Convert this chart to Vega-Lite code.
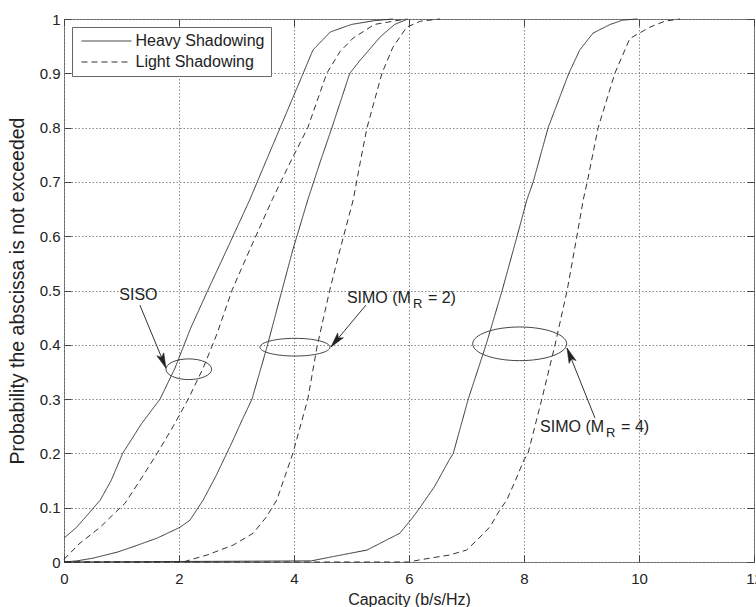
{
  "$schema": "https://vega.github.io/schema/vega-lite/v6.json",
  "width": 690,
  "height": 543,
  "autosize": {"type": "none"},
  "padding": {"left": 64, "top": 19, "right": 2, "bottom": 45},
  "background": "white",
  "config": {
    "font": "Liberation Sans",
    "view": {"stroke": "#666", "strokeWidth": 1},
    "axis": {
      "labelFont": "Liberation Sans",
      "titleFont": "Liberation Sans",
      "labelFontSize": 15,
      "titleFontSize": 16,
      "titleFontWeight": "normal",
      "labelColor": "#222",
      "titleColor": "#222",
      "labelFlush": false,
      "domain": false,
      "tickColor": "#444",
      "tickWidth": 1,
      "tickOpacity": 1,
      "gridColor": "#888",
      "gridDash": [1.5, 2],
      "gridWidth": 1,
      "gridOpacity": 1
    }
  },
  "datasets": {
    "curves": [
      {"curve": "SISO-H", "shadow": "Heavy Shadowing", "x": 0, "p": 0.044},
      {"curve": "SISO-H", "shadow": "Heavy Shadowing", "x": 0.22, "p": 0.064},
      {"curve": "SISO-H", "shadow": "Heavy Shadowing", "x": 0.45, "p": 0.092},
      {"curve": "SISO-H", "shadow": "Heavy Shadowing", "x": 0.63, "p": 0.114},
      {"curve": "SISO-H", "shadow": "Heavy Shadowing", "x": 0.82, "p": 0.15},
      {"curve": "SISO-H", "shadow": "Heavy Shadowing", "x": 1.02, "p": 0.2},
      {"curve": "SISO-H", "shadow": "Heavy Shadowing", "x": 1.35, "p": 0.255},
      {"curve": "SISO-H", "shadow": "Heavy Shadowing", "x": 1.67, "p": 0.3},
      {"curve": "SISO-H", "shadow": "Heavy Shadowing", "x": 1.93, "p": 0.357},
      {"curve": "SISO-H", "shadow": "Heavy Shadowing", "x": 2.2, "p": 0.43},
      {"curve": "SISO-H", "shadow": "Heavy Shadowing", "x": 2.5, "p": 0.5},
      {"curve": "SISO-H", "shadow": "Heavy Shadowing", "x": 2.83, "p": 0.575},
      {"curve": "SISO-H", "shadow": "Heavy Shadowing", "x": 3.23, "p": 0.667},
      {"curve": "SISO-H", "shadow": "Heavy Shadowing", "x": 3.5, "p": 0.735},
      {"curve": "SISO-H", "shadow": "Heavy Shadowing", "x": 3.76, "p": 0.8},
      {"curve": "SISO-H", "shadow": "Heavy Shadowing", "x": 3.96, "p": 0.85},
      {"curve": "SISO-H", "shadow": "Heavy Shadowing", "x": 4.16, "p": 0.9},
      {"curve": "SISO-H", "shadow": "Heavy Shadowing", "x": 4.33, "p": 0.943},
      {"curve": "SISO-H", "shadow": "Heavy Shadowing", "x": 4.63, "p": 0.976},
      {"curve": "SISO-H", "shadow": "Heavy Shadowing", "x": 5.0, "p": 0.99},
      {"curve": "SISO-H", "shadow": "Heavy Shadowing", "x": 5.4, "p": 0.997},
      {"curve": "SISO-H", "shadow": "Heavy Shadowing", "x": 5.72, "p": 1.0},

      {"curve": "SISO-L", "shadow": "Light Shadowing", "x": 0, "p": 0.005},
      {"curve": "SISO-L", "shadow": "Light Shadowing", "x": 0.28, "p": 0.035},
      {"curve": "SISO-L", "shadow": "Light Shadowing", "x": 0.63, "p": 0.064},
      {"curve": "SISO-L", "shadow": "Light Shadowing", "x": 0.85, "p": 0.087},
      {"curve": "SISO-L", "shadow": "Light Shadowing", "x": 1.06, "p": 0.108},
      {"curve": "SISO-L", "shadow": "Light Shadowing", "x": 1.32, "p": 0.15},
      {"curve": "SISO-L", "shadow": "Light Shadowing", "x": 1.62, "p": 0.2},
      {"curve": "SISO-L", "shadow": "Light Shadowing", "x": 1.9, "p": 0.25},
      {"curve": "SISO-L", "shadow": "Light Shadowing", "x": 2.16, "p": 0.3},
      {"curve": "SISO-L", "shadow": "Light Shadowing", "x": 2.42, "p": 0.357},
      {"curve": "SISO-L", "shadow": "Light Shadowing", "x": 2.66, "p": 0.42},
      {"curve": "SISO-L", "shadow": "Light Shadowing", "x": 2.92, "p": 0.5},
      {"curve": "SISO-L", "shadow": "Light Shadowing", "x": 3.23, "p": 0.575},
      {"curve": "SISO-L", "shadow": "Light Shadowing", "x": 3.62, "p": 0.667},
      {"curve": "SISO-L", "shadow": "Light Shadowing", "x": 3.93, "p": 0.735},
      {"curve": "SISO-L", "shadow": "Light Shadowing", "x": 4.24, "p": 0.8},
      {"curve": "SISO-L", "shadow": "Light Shadowing", "x": 4.57, "p": 0.9},
      {"curve": "SISO-L", "shadow": "Light Shadowing", "x": 4.8, "p": 0.94},
      {"curve": "SISO-L", "shadow": "Light Shadowing", "x": 5.03, "p": 0.965},
      {"curve": "SISO-L", "shadow": "Light Shadowing", "x": 5.4, "p": 0.99},
      {"curve": "SISO-L", "shadow": "Light Shadowing", "x": 5.95, "p": 1.0},

      {"curve": "SIMO2-H", "shadow": "Heavy Shadowing", "x": 0, "p": 0},
      {"curve": "SIMO2-H", "shadow": "Heavy Shadowing", "x": 0.22, "p": 0.002},
      {"curve": "SIMO2-H", "shadow": "Heavy Shadowing", "x": 0.5, "p": 0.007},
      {"curve": "SIMO2-H", "shadow": "Heavy Shadowing", "x": 0.92, "p": 0.018},
      {"curve": "SIMO2-H", "shadow": "Heavy Shadowing", "x": 1.2, "p": 0.028},
      {"curve": "SIMO2-H", "shadow": "Heavy Shadowing", "x": 1.62, "p": 0.044},
      {"curve": "SIMO2-H", "shadow": "Heavy Shadowing", "x": 2.02, "p": 0.064},
      {"curve": "SIMO2-H", "shadow": "Heavy Shadowing", "x": 2.19, "p": 0.077},
      {"curve": "SIMO2-H", "shadow": "Heavy Shadowing", "x": 2.42, "p": 0.114},
      {"curve": "SIMO2-H", "shadow": "Heavy Shadowing", "x": 2.65, "p": 0.16},
      {"curve": "SIMO2-H", "shadow": "Heavy Shadowing", "x": 2.92, "p": 0.22},
      {"curve": "SIMO2-H", "shadow": "Heavy Shadowing", "x": 3.1, "p": 0.262},
      {"curve": "SIMO2-H", "shadow": "Heavy Shadowing", "x": 3.27, "p": 0.3},
      {"curve": "SIMO2-H", "shadow": "Heavy Shadowing", "x": 3.53, "p": 0.396},
      {"curve": "SIMO2-H", "shadow": "Heavy Shadowing", "x": 3.79, "p": 0.5},
      {"curve": "SIMO2-H", "shadow": "Heavy Shadowing", "x": 3.98, "p": 0.575},
      {"curve": "SIMO2-H", "shadow": "Heavy Shadowing", "x": 4.24, "p": 0.667},
      {"curve": "SIMO2-H", "shadow": "Heavy Shadowing", "x": 4.45, "p": 0.735},
      {"curve": "SIMO2-H", "shadow": "Heavy Shadowing", "x": 4.66, "p": 0.8},
      {"curve": "SIMO2-H", "shadow": "Heavy Shadowing", "x": 4.97, "p": 0.9},
      {"curve": "SIMO2-H", "shadow": "Heavy Shadowing", "x": 5.15, "p": 0.924},
      {"curve": "SIMO2-H", "shadow": "Heavy Shadowing", "x": 5.5, "p": 0.967},
      {"curve": "SIMO2-H", "shadow": "Heavy Shadowing", "x": 5.75, "p": 0.99},
      {"curve": "SIMO2-H", "shadow": "Heavy Shadowing", "x": 5.98, "p": 1.0},

      {"curve": "SIMO2-L", "shadow": "Light Shadowing", "x": 0, "p": 0},
      {"curve": "SIMO2-L", "shadow": "Light Shadowing", "x": 2.07, "p": 0},
      {"curve": "SIMO2-L", "shadow": "Light Shadowing", "x": 2.49, "p": 0.013},
      {"curve": "SIMO2-L", "shadow": "Light Shadowing", "x": 2.94, "p": 0.031},
      {"curve": "SIMO2-L", "shadow": "Light Shadowing", "x": 3.29, "p": 0.053},
      {"curve": "SIMO2-L", "shadow": "Light Shadowing", "x": 3.52, "p": 0.083},
      {"curve": "SIMO2-L", "shadow": "Light Shadowing", "x": 3.7, "p": 0.114},
      {"curve": "SIMO2-L", "shadow": "Light Shadowing", "x": 3.85, "p": 0.16},
      {"curve": "SIMO2-L", "shadow": "Light Shadowing", "x": 3.98, "p": 0.2},
      {"curve": "SIMO2-L", "shadow": "Light Shadowing", "x": 4.24, "p": 0.3},
      {"curve": "SIMO2-L", "shadow": "Light Shadowing", "x": 4.4, "p": 0.396},
      {"curve": "SIMO2-L", "shadow": "Light Shadowing", "x": 4.62, "p": 0.5},
      {"curve": "SIMO2-L", "shadow": "Light Shadowing", "x": 4.8, "p": 0.575},
      {"curve": "SIMO2-L", "shadow": "Light Shadowing", "x": 5.03, "p": 0.667},
      {"curve": "SIMO2-L", "shadow": "Light Shadowing", "x": 5.15, "p": 0.735},
      {"curve": "SIMO2-L", "shadow": "Light Shadowing", "x": 5.27, "p": 0.8},
      {"curve": "SIMO2-L", "shadow": "Light Shadowing", "x": 5.53, "p": 0.9},
      {"curve": "SIMO2-L", "shadow": "Light Shadowing", "x": 5.72, "p": 0.948},
      {"curve": "SIMO2-L", "shadow": "Light Shadowing", "x": 5.96, "p": 0.985},
      {"curve": "SIMO2-L", "shadow": "Light Shadowing", "x": 6.2, "p": 0.996},
      {"curve": "SIMO2-L", "shadow": "Light Shadowing", "x": 6.54, "p": 1.0},

      {"curve": "SIMO4-H", "shadow": "Heavy Shadowing", "x": 0, "p": 0},
      {"curve": "SIMO4-H", "shadow": "Heavy Shadowing", "x": 4.3, "p": 0.002},
      {"curve": "SIMO4-H", "shadow": "Heavy Shadowing", "x": 4.68, "p": 0.01},
      {"curve": "SIMO4-H", "shadow": "Heavy Shadowing", "x": 5.27, "p": 0.022},
      {"curve": "SIMO4-H", "shadow": "Heavy Shadowing", "x": 5.84, "p": 0.053},
      {"curve": "SIMO4-H", "shadow": "Heavy Shadowing", "x": 6.05, "p": 0.08},
      {"curve": "SIMO4-H", "shadow": "Heavy Shadowing", "x": 6.19, "p": 0.1},
      {"curve": "SIMO4-H", "shadow": "Heavy Shadowing", "x": 6.45, "p": 0.14},
      {"curve": "SIMO4-H", "shadow": "Heavy Shadowing", "x": 6.7, "p": 0.188},
      {"curve": "SIMO4-H", "shadow": "Heavy Shadowing", "x": 6.77, "p": 0.2},
      {"curve": "SIMO4-H", "shadow": "Heavy Shadowing", "x": 7.03, "p": 0.3},
      {"curve": "SIMO4-H", "shadow": "Heavy Shadowing", "x": 7.34, "p": 0.4},
      {"curve": "SIMO4-H", "shadow": "Heavy Shadowing", "x": 7.62, "p": 0.5},
      {"curve": "SIMO4-H", "shadow": "Heavy Shadowing", "x": 7.88, "p": 0.6},
      {"curve": "SIMO4-H", "shadow": "Heavy Shadowing", "x": 8.05, "p": 0.667},
      {"curve": "SIMO4-H", "shadow": "Heavy Shadowing", "x": 8.16, "p": 0.7},
      {"curve": "SIMO4-H", "shadow": "Heavy Shadowing", "x": 8.42, "p": 0.8},
      {"curve": "SIMO4-H", "shadow": "Heavy Shadowing", "x": 8.78, "p": 0.9},
      {"curve": "SIMO4-H", "shadow": "Heavy Shadowing", "x": 8.97, "p": 0.943},
      {"curve": "SIMO4-H", "shadow": "Heavy Shadowing", "x": 9.2, "p": 0.974},
      {"curve": "SIMO4-H", "shadow": "Heavy Shadowing", "x": 9.5, "p": 0.99},
      {"curve": "SIMO4-H", "shadow": "Heavy Shadowing", "x": 9.72, "p": 0.998},
      {"curve": "SIMO4-H", "shadow": "Heavy Shadowing", "x": 9.97, "p": 1.0},

      {"curve": "SIMO4-L", "shadow": "Light Shadowing", "x": 0, "p": 0},
      {"curve": "SIMO4-L", "shadow": "Light Shadowing", "x": 6.0, "p": 0},
      {"curve": "SIMO4-L", "shadow": "Light Shadowing", "x": 6.19, "p": 0.004},
      {"curve": "SIMO4-L", "shadow": "Light Shadowing", "x": 6.71, "p": 0.013},
      {"curve": "SIMO4-L", "shadow": "Light Shadowing", "x": 7.0, "p": 0.022},
      {"curve": "SIMO4-L", "shadow": "Light Shadowing", "x": 7.18, "p": 0.04},
      {"curve": "SIMO4-L", "shadow": "Light Shadowing", "x": 7.41, "p": 0.065},
      {"curve": "SIMO4-L", "shadow": "Light Shadowing", "x": 7.58, "p": 0.096},
      {"curve": "SIMO4-L", "shadow": "Light Shadowing", "x": 7.7, "p": 0.114},
      {"curve": "SIMO4-L", "shadow": "Light Shadowing", "x": 7.85, "p": 0.15},
      {"curve": "SIMO4-L", "shadow": "Light Shadowing", "x": 8.0, "p": 0.188},
      {"curve": "SIMO4-L", "shadow": "Light Shadowing", "x": 8.07, "p": 0.2},
      {"curve": "SIMO4-L", "shadow": "Light Shadowing", "x": 8.31, "p": 0.3},
      {"curve": "SIMO4-L", "shadow": "Light Shadowing", "x": 8.54, "p": 0.4},
      {"curve": "SIMO4-L", "shadow": "Light Shadowing", "x": 8.75, "p": 0.5},
      {"curve": "SIMO4-L", "shadow": "Light Shadowing", "x": 8.92, "p": 0.6},
      {"curve": "SIMO4-L", "shadow": "Light Shadowing", "x": 9.03, "p": 0.667},
      {"curve": "SIMO4-L", "shadow": "Light Shadowing", "x": 9.1, "p": 0.7},
      {"curve": "SIMO4-L", "shadow": "Light Shadowing", "x": 9.29, "p": 0.8},
      {"curve": "SIMO4-L", "shadow": "Light Shadowing", "x": 9.58, "p": 0.9},
      {"curve": "SIMO4-L", "shadow": "Light Shadowing", "x": 9.84, "p": 0.964},
      {"curve": "SIMO4-L", "shadow": "Light Shadowing", "x": 10.19, "p": 0.985},
      {"curve": "SIMO4-L", "shadow": "Light Shadowing", "x": 10.45, "p": 0.996},
      {"curve": "SIMO4-L", "shadow": "Light Shadowing", "x": 10.71, "p": 1.0}
    ],
    "arrows": [
      {"arrow": "SISO", "x": 1.32, "p": 0.473},
      {"arrow": "SISO", "x": 1.774, "p": 0.357},
      {"arrow": "SIMO2", "x": 5.25, "p": 0.473},
      {"arrow": "SIMO2", "x": 4.643, "p": 0.396},
      {"arrow": "SIMO4", "x": 9.235, "p": 0.265},
      {"arrow": "SIMO4", "x": 8.748, "p": 0.394}
    ],
    "heads": [
      {"arrow": "SISO", "x": 1.774, "p": 0.357, "ang": 157.6},
      {"arrow": "SIMO2", "x": 4.643, "p": 0.396, "ang": 219.6},
      {"arrow": "SIMO4", "x": 8.748, "p": 0.394, "ang": 338.2}
    ],
    "ellipses": [
      {"name": "SISO", "x": 2.17, "p": 0.355},
      {"name": "SIMO2", "x": 4.017, "p": 0.3956},
      {"name": "SIMO4", "x": 7.925, "p": 0.4018}
    ],
    "labels": [
      {"main": "SISO", "sub": "", "tail": "", "x": 0.962, "p": 0.4917},
      {"main": "SIMO (M", "sub": "R", "tail": "= 2)", "x": 4.92, "p": 0.486},
      {"main": "SIMO (M", "sub": "R", "tail": "= 4)", "x": 8.28, "p": 0.2477}
    ]
  },
  "layer": [
    {
      "data": {"name": "curves"},
      "mark": {"type": "line", "color": "#333", "strokeWidth": 1},
      "encoding": {
        "x": {
          "field": "x", "type": "quantitative",
          "scale": {"domain": [0, 12], "nice": false, "zero": false},
          "axis": {
            "orient": "bottom", "values": [0, 2, 4, 6, 8, 10, 12], "format": "d",
            "title": "Capacity (b/s/Hz)", "grid": true, "ticks": true, "tickSize": -7, "labelPadding": 16,
            "titleBaseline": "alphabetic", "titleY": 42, "zindex": 0
          }
        },
        "y": {
          "field": "p", "type": "quantitative",
          "scale": {"domain": [0, 1], "nice": false},
          "axis": {
            "orient": "left", "values": [0, 0.1, 0.2, 0.3, 0.4, 0.5, 0.6, 0.7, 0.8, 0.9, 1], "format": ".1~f",
            "title": "Probability the abscissa is not exceeded", "titleFontSize": 19.5, "grid": true, "ticks": true, "tickSize": -7, "labelPadding": 11,
            "titleBaseline": "alphabetic", "titleX": -41, "titleY": 271.5, "titleAngle": -90, "titleAlign": "center", "zindex": 0
          }
        },
        "detail": {"field": "curve", "type": "nominal"},
        "order": {"field": "x", "type": "quantitative"},
        "strokeDash": {
          "field": "shadow", "type": "nominal",
          "scale": {"domain": ["Heavy Shadowing", "Light Shadowing"], "range": [[1, 0], [6, 4]]},
          "legend": {
            "title": null, "orient": "none", "legendX": 8, "legendY": 8,
            "symbolType": "M-5,0 L5,0", "symbolSize": 100, "symbolOffset": 20.5,
            "symbolStrokeWidth": 1, "symbolStrokeColor": "#333", "symbolFillColor": "transparent",
            "labelFont": "Liberation Sans", "labelFontSize": 16, "labelColor": "#222",
            "strokeColor": "#666", "fillColor": "white", "padding": 6, "rowPadding": 5, "labelOffset": 21
          }
        }
      }
    },
    {
      "data": {"name": "arrows"},
      "mark": {"type": "line", "color": "#333", "strokeWidth": 1},
      "encoding": {
        "x": {
          "field": "x", "type": "quantitative",
          "axis": {"orient": "top", "values": [0, 2, 4, 6, 8, 10, 12], "labels": false, "grid": false, "title": null, "ticks": true, "tickSize": -7}
        },
        "y": {
          "field": "p", "type": "quantitative",
          "axis": {"orient": "right", "values": [0, 0.1, 0.2, 0.3, 0.4, 0.5, 0.6, 0.7, 0.8, 0.9, 1], "labels": false, "grid": false, "title": null, "ticks": true, "tickSize": -7}
        },
        "detail": {"field": "arrow", "type": "nominal"}
      }
    },
    {
      "data": {"name": "heads"},
      "mark": {"type": "point", "shape": "M0,0 L0.5,2 L0,1.55 L-0.5,2 Z", "size": 225, "filled": true, "color": "#222", "opacity": 1, "strokeWidth": 0.5, "stroke": "#222"},
      "encoding": {
        "x": {"field": "x", "type": "quantitative", "axis": null},
        "y": {"field": "p", "type": "quantitative", "axis": null},
        "angle": {"field": "ang", "type": "quantitative", "scale": null}
      }
    },
    {
      "data": {"name": "ellipses"},
      "transform": [{"filter": "datum.name === 'SISO'"}],
      "mark": {"type": "point", "shape": "M-1,0 C-1,-0.25 -0.552,-0.453 0,-0.453 C0.552,-0.453 1,-0.25 1,0 C1,0.25 0.552,0.453 0,0.453 C-0.552,0.453 -1,0.25 -1,0 Z", "size": 2088, "filled": false, "stroke": "#444", "strokeWidth": 1, "opacity": 1},
      "encoding": {
        "x": {"field": "x", "type": "quantitative", "axis": null},
        "y": {"field": "p", "type": "quantitative", "axis": null}
      }
    },
    {
      "data": {"name": "ellipses"},
      "transform": [{"filter": "datum.name === 'SIMO2'"}],
      "mark": {"type": "point", "shape": "M-1,0 C-1,-0.14 -0.552,-0.253 0,-0.253 C0.552,-0.253 1,-0.14 1,0 C1,0.14 0.552,0.253 0,0.253 C-0.552,0.253 -1,0.14 -1,0 Z", "size": 4900, "filled": false, "stroke": "#444", "strokeWidth": 1, "opacity": 1},
      "encoding": {
        "x": {"field": "x", "type": "quantitative", "axis": null},
        "y": {"field": "p", "type": "quantitative", "axis": null}
      }
    },
    {
      "data": {"name": "ellipses"},
      "transform": [{"filter": "datum.name === 'SIMO4'"}],
      "mark": {"type": "point", "shape": "M-1,0 C-1,-0.198 -0.552,-0.358 0,-0.358 C0.552,-0.358 1,-0.198 1,0 C1,0.198 0.552,0.358 0,0.358 C-0.552,0.358 -1,0.198 -1,0 Z", "size": 8836, "filled": false, "stroke": "#444", "strokeWidth": 1, "opacity": 1},
      "encoding": {
        "x": {"field": "x", "type": "quantitative", "axis": null},
        "y": {"field": "p", "type": "quantitative", "axis": null}
      }
    },
    {
      "data": {"name": "labels"},
      "mark": {"type": "text", "align": "left", "baseline": "middle", "font": "Liberation Sans", "fontSize": 16, "color": "#222"},
      "encoding": {
        "x": {"field": "x", "type": "quantitative", "axis": null},
        "y": {"field": "p", "type": "quantitative", "axis": null},
        "text": {"field": "main"}
      }
    },
    {
      "data": {"name": "labels"},
      "mark": {"type": "text", "align": "left", "baseline": "middle", "font": "Liberation Sans", "fontSize": 13, "color": "#222", "dx": 66, "dy": 6},
      "encoding": {
        "x": {"field": "x", "type": "quantitative", "axis": null},
        "y": {"field": "p", "type": "quantitative", "axis": null},
        "text": {"field": "sub"}
      }
    },
    {
      "data": {"name": "labels"},
      "mark": {"type": "text", "align": "left", "baseline": "middle", "font": "Liberation Sans", "fontSize": 16, "color": "#222", "dx": 81},
      "encoding": {
        "x": {"field": "x", "type": "quantitative", "axis": null},
        "y": {"field": "p", "type": "quantitative", "axis": null},
        "text": {"field": "tail"}
      }
    }
  ],
  "resolve": {"axis": {"x": "independent", "y": "independent"}}
}
